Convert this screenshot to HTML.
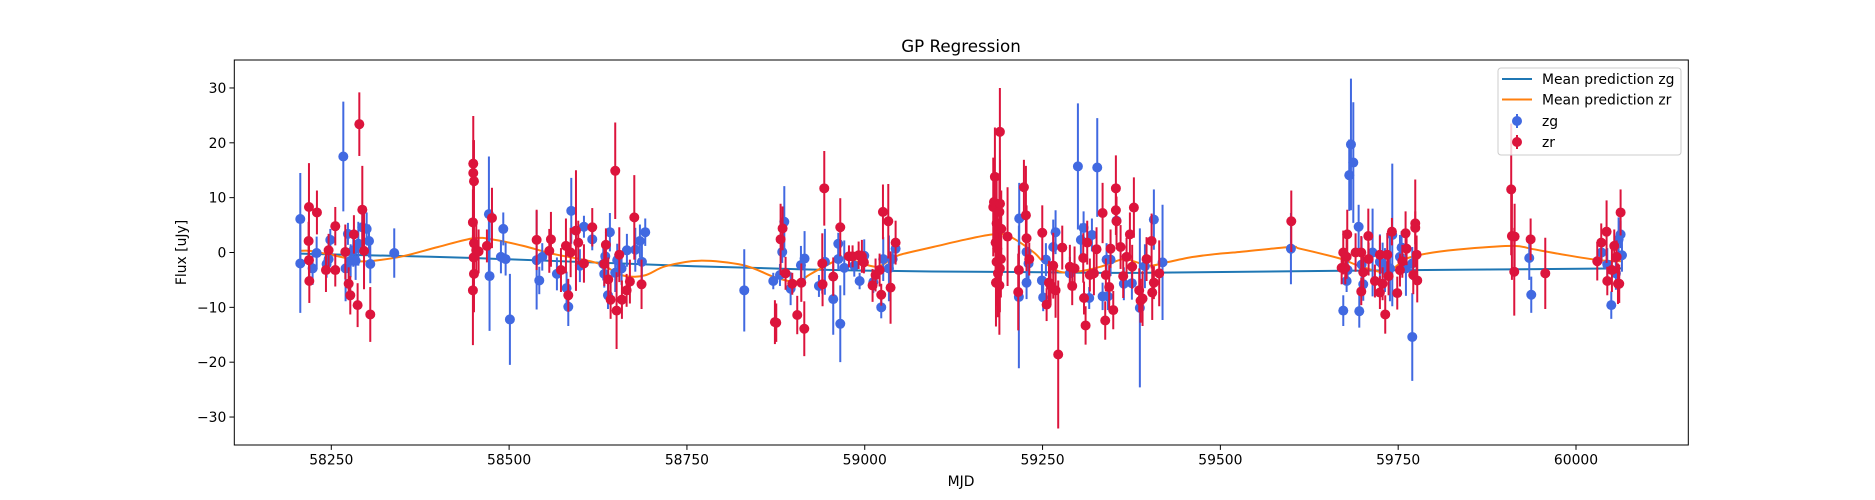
<!DOCTYPE html>
<html><head><meta charset="utf-8"><title>GP Regression</title>
<style>
html,body{margin:0;padding:0;background:#fff;}
svg{display:block;font-family:"DejaVu Sans","Liberation Sans",sans-serif;}
</style></head>
<body>
<svg id="chart" width="1875" height="500" viewBox="0 0 1875 500" xmlns="http://www.w3.org/2000/svg">
<rect x="0" y="0" width="1875" height="500" fill="#fff"/>
<text x="961" y="52" font-size="16.7" text-anchor="middle" fill="#000">GP Regression</text>
<text x="961" y="486" font-size="13.9" text-anchor="middle" fill="#000">MJD</text>
<text x="0" y="0" font-size="13.9" text-anchor="middle" fill="#000" transform="translate(186,252.5) rotate(-90)">Flux [uJy]</text>
<g id="plot"></g>
<g id="axes"></g>
<g id="legend">
<rect x="1498" y="68" width="183" height="87" rx="3" fill="#fff" fill-opacity="0.8" stroke="#ccc" stroke-width="1"/>
<g><line x1="1502" y1="79" x2="1532" y2="79" stroke="#1f77b4" stroke-width="2"/><text x="1542" y="84" font-size="13.9">Mean prediction zg</text></g>
<g><line x1="1502" y1="99.5" x2="1532" y2="99.5" stroke="#ff7f0e" stroke-width="2"/><text x="1542" y="104.5" font-size="13.9">Mean prediction zr</text></g>
<g><line x1="1517" y1="114" x2="1517" y2="128" stroke="#4169e1" stroke-width="2"/><circle cx="1517" cy="121" r="5" fill="#4169e1"/><text x="1542" y="126" font-size="13.9">zg</text></g>
<g><line x1="1517" y1="135" x2="1517" y2="149" stroke="#dc143c" stroke-width="2"/><circle cx="1517" cy="142" r="5" fill="#dc143c"/><text x="1542" y="147" font-size="13.9">zr</text></g>
</g>
</svg>
<script>
const xTicks = [58250,58500,58750,59000,59250,59500,59750,60000];
const yTicks = [-30,-20,-10,0,10,20,30];

const zgMjd = [58206.4,58206.4,58223.7,58229.4,58243.4,58246.2,58248.6,58266.9,58270.1,58273.4,58277.2,58280.9,58284.2,58288,58293.6,58299.7,58303,58304.8,58338.5,58471.6,58472.5,58488.5,58491.8,58495.1,58501.1,58538.7,58542.4,58546.6,58567.2,58580.8,58583.2,58587.4,58599.5,58605.2,58616.9,58632.4,58635.2,58633.8,58639,58641.7,58649.2,58652,58658.1,58665.6,58677.4,58683.9,58686.7,58691.4,
58830.6,58871.4,58880.8,58884,58886.9,58895.8,58910.3,58915.4,58935.6,58944,58955.7,58962.8,58962.8,58965.6,58971.2,58985.3,58992.8,58999.3,59012,59023.2,59026,59034,59039.2,59043.4,59217.2,59216.7,59227.5,59227.5,59230.3,59249.1,59250.9,59254.7,59265,59268.3,59288.4,59299.7,59303.9,59307.7,59315.6,59319.4,59326.9,59334.4,59340,59341.9,59345.6,59354,59364.3,59375.6,59386.8,59393.9,59406.5,59418.7,
59599.2,59672.8,59677.5,59678.9,59681.2,59683.6,59686.9,59694.4,59695.3,59698.6,59700.9,59714,59724.3,59728.1,59731.4,59738.4,59741.7,59752.5,59754.8,59760.9,59769.8,59769.8,59934.3,59937.1,60036,60044,60049.6,60056.1,60059.9,60062.7,60064.6];
const zgFlux = [6.1,-2.0,-2.9,-0.1,-2.1,-1.2,2.3,17.5,-2.9,3.4,-1.5,0.4,-1.5,1.6,4.6,4.3,2.1,-2.1,-0.1,7.0,-4.3,-0.8,4.3,-1.2,-12.2,-1.4,-5.1,-0.8,-3.9,-6.5,-9.9,7.6,-2.4,4.7,2.4,-2.1,-0.7,-3.9,-7.8,3.7,-3.7,-1.4,-2.9,0.4,0.5,2.1,-1.7,3.7,
-6.9,-5.2,-4.1,0.1,5.6,-6.6,-2.3,-1.1,-6.1,-1.7,-8.5,1.6,-1.2,-13.0,-2.8,-2.4,-5.2,-0.6,-5.4,-10.0,-1.2,-2.9,-1.2,0.7,6.2,-8.1,0.1,-5.5,-2.0,-5.1,-8.2,-1.3,1.0,3.7,-3.8,15.7,2.3,4.5,-8.3,3.2,15.5,-8.0,-1.3,-8.0,-1.3,5.8,-5.7,-5.6,-10.1,-2.5,6.0,-1.8,
0.7,-10.6,-5.2,-3.2,14.1,19.7,16.4,4.7,-10.7,-2.2,-5.8,0,-1.7,-2.2,-3.2,-2.9,3.2,-0.8,0.9,-2.9,-2.0,-15.4,-1.0,-7.7,0,-2.2,-9.6,-3.8,2.4,3.3,-0.5];
const zgErr = [8.4,9,3,3,2.5,2.5,2,10,6,2,3,3,3.5,4,3,3,3,3.5,4.5,10.5,10,3,3,3,8.3,9,2.5,2.5,3,3,3.5,6,3,2,2,3,3,2.5,2.5,3.5,3.5,3,3,3,4,3,4,2.5,
7.5,1.5,2,2,6.5,3,3.5,5,2,6,6.5,2,2,7,5,2,1.5,3,2,2,4,6,2,2,6.5,13,3,3,3,3,2.5,3,5,4,3,11.5,3,3,2,3,9,2.5,3,2.5,3,3,3,3,14.5,4,5.5,10.5,
6.5,2.8,2,2,6.5,12,11,4,3,5,3,8,5,4,4,6,13,4,3,5,3,8,4,3.3,2,3,2.5,3,4,2.5,3];

const zrMjd = [58218.6,58218.1,58218.6,58219.1,58229.8,58242.5,58246.2,58255.6,58255.6,58269.7,58274.4,58276.7,58281.8,58287,58289.4,58293.6,58296,58304.8,58449.6,58449.6,58450.6,58449.1,58450.6,58450.1,58450.6,58449.1,58453.8,58457.1,58468.8,58475.9,58538.7,58556.5,58558.8,58572.9,58579.9,58583.2,58586.5,58594,58597.2,58605.2,58616.9,58633.8,58636.1,58639.4,58642.7,58649.2,58651.1,58654.9,58658.6,58665.2,58669.8,58676,58686.2,
58873.7,58875.6,58881.7,58884.5,58888.7,58898.1,58905.1,58910.8,58915,58940.3,58940.7,58943.1,58955.7,58965.6,58977.8,58982.9,58991.4,58996,58998.8,59011,59015.2,59020.9,59023.2,59025.6,59033.1,59036.3,59043.4,
59180.7,59183,59181.7,59185.4,59184,59186.4,59185.4,59187.3,59184.5,59190,59190.2,59189.3,59190,59191.9,59191.4,59190,59189.3,
59200.8,59216.7,59215.8,59223.8,59226.6,59227.5,59231.3,59249.6,59255.7,59259,59261.3,59265,59268.3,59272,59277.7,59288.4,59291.7,59295,59307.2,59308.3,59310.5,59312.8,59316.5,59322.2,59325.9,59334.4,59338.1,59339,59343.7,59345.6,59349.4,59353.1,59353.1,59354,59359.7,59363.4,59368.1,59372.8,59376,59378.4,59385.9,59387.8,59390.6,59396.2,59403.3,59404.2,59406.5,59414,
59599.7,59670.5,59672.8,59675.6,59677.5,59678.4,59690.1,59698.1,59698.1,59700.9,59708,59708.4,59717.3,59724.3,59724.3,59728.1,59731.8,59734.7,59736.5,59741.2,59748.7,59752.5,59755.8,59760.4,59761.8,59771.2,59774,59774,59775.9,59776.8,59908.9,59909.9,59913.7,59913.2,59936.2,59956.8,60029.9,60035.5,60043,60044,60050.5,60053.8,60057.1,60059,60060.8,60062.7];
const zrFlux = [8.3,2.1,-1.4,-5.2,7.3,-3.2,0.4,4.8,-3.2,0.1,-5.7,-7.8,3.3,-9.6,23.4,7.8,0.3,-11.3,16.2,14.5,13.0,5.5,1.7,-0.9,-3.9,-6.9,0.4,0.2,1.2,6.3,2.3,0.3,2.4,-3.2,1.2,-7.8,0.0,4.0,1.8,-2.0,4.6,-2.1,1.4,-4.9,-8.6,14.9,-10.6,-0.4,-8.6,-6.9,-5.3,6.4,-5.8,
-12.7,-12.8,2.4,4.4,-3.8,-5.7,-11.4,-5.5,-13.9,-2.0,-5.8,11.7,-4.4,4.6,-0.7,-0.7,-0.5,-0.7,-1.8,-6.0,-4.1,-3.2,-7.7,7.4,5.7,-6.4,1.8,
8.3,13.8,9.2,5.3,1.8,0.7,-1.7,-3.8,-5.5,22.0,8.9,7.4,4.4,4.3,-1.2,-2.9,-6.0,
2.9,-3.2,-7.2,11.9,6.8,2.6,-1.2,3.6,-9.5,-5.5,-6.0,-2.4,-6.9,-18.6,0.9,-2.6,-6.1,-2.9,-1.0,-8.3,-13.3,1.8,-4.1,-3.8,0.6,7.2,-12.4,-4.1,-6.3,0.7,-10.5,11.7,7.7,5.7,1.0,-4.3,-0.8,3.3,-2.6,8.2,-6.9,-8.8,-8.4,-1.2,2.1,-7.3,-5.5,-3.8,
5.7,-2.8,0,-2.8,-0.8,3.3,0,0,-7.1,-3.6,3.0,-1.2,-5.2,-0.4,-7.3,-5.7,-11.3,-0.4,-4.3,3.8,-7.4,-3.2,-1.6,3.5,0.7,-4.1,5.3,4.5,-0.4,-5.1,11.5,3.0,2.9,-3.5,2.4,-3.8,-1.6,1.8,3.8,-5.2,-3.2,1.2,-0.8,-5.7,-5.7,7.3];
const zrErr = [8,3.5,4,4,4,4,3,3.5,3,5,3,3.5,3.5,4,5.8,8,7,5,8.7,6,7.5,6,6,7,7,10,5,4,3,5.5,5.5,4,5,4,5,3,4.5,11,4,3.5,3.5,4,3,4,3.5,8.8,7,5,3.5,3,4,7.7,4.5,
4,3.5,6.5,4,3,2,3.5,3.5,5,5.5,4,6.8,3.5,5.3,2,2,2.5,3,2,3,3,3,2,5,6.8,6.6,4,
9,9,8,8,8,7,8,8,8,8,8,7,7,7,7,8,9,
9,4.5,7,5,9,6,3,5,3,4,3.5,6,5,13.5,4,4,3.5,4,4.5,3,3.5,4,3,4,4,5.5,3.5,3,4,3.5,3.5,6,4.5,4.5,4,4,3.5,4,4,5.5,4,4,5,4,5,5,3,6,
5.6,3,4,3,4,4.5,3.5,3,2.5,3,5,3,3,3.5,3,3,3.5,4,3.5,2.5,3,3,3,4,3,3.5,8,3,3.5,4,12,8,6,8,3.8,6.5,3.5,3.5,5.7,2.6,4,3,3,3.7,3.5,4.2];

const meanZgMjd = [58206,58450,58760,59000,59250,59400,59700,60064];
const meanZgFlux = [-0.2,-1.0,-2.5,-3.3,-3.6,-3.7,-3.3,-2.9];

const meanZrMjd = [58206,58220,58245,58270,58290,58310,58350,58400,58450,58480,58520,58560,58600,58630,58660,58690,58720,58768,58829,58871,58893,58909,58923,58956,58975,58989,59017,59035,59050,59096,59143,59181,59204,59237,59251,59274,59298,59331,59363,59378,59401,59424,59462,59499,59518,59598,59612,59668,59692,59724,59743,59762,59799,59846,59912,59940,59987,60034,60064];
const meanZrFlux = [0.3,0.3,-0.3,-1.0,-1.6,-1.5,-0.7,1.0,2.6,2.3,1.2,-0.2,-1.2,-2.2,-4.2,-4.2,-2.5,-1.5,-2.3,-4.4,-5.2,-5.2,-4.0,-1.7,-0.8,-1.7,-2.6,-1.4,-0.4,1.0,2.4,3.3,2.9,0.1,-1.7,-3.5,-3.5,-2.6,-1.2,-1.6,-2.4,-1.8,-0.8,-0.2,0.0,1.0,0.7,-1.1,-2.3,-3.5,-2.9,-1.1,0.0,0.7,1.2,0.6,-0.5,-1.4,-1.6];

const L=234.3,R=1688.3,T=60,B=445;
const pxPerDay=(1576-331.3)/1750;
function xs(v){return 331.3+(v-58250)*pxPerDay;}
const pxPerFlux=(B-T)/70.2;
function ys(v){return 252.5-v*pxPerFlux;}
const NS='http://www.w3.org/2000/svg';
function mk(tag,attrs,parent){const e=document.createElementNS(NS,tag);for(const k in attrs)e.setAttribute(k,attrs[k]);parent.appendChild(e);return e;}

const plot=document.getElementById('plot');
const clip=mk('clipPath',{id:'clipArea'},plot);
mk('rect',{x:L,y:T,width:R-L,height:B-T},clip);
const inner=mk('g',{'clip-path':'url(#clipArea)'},plot);

function drawLine(xsArr,ysArr,color,name){
  const P=xsArr.map((v,i)=>[xs(v),ys(ysArr[i])]);
  let d='M'+P[0][0].toFixed(1)+','+P[0][1].toFixed(1);
  for(let i=0;i<P.length-1;i++){
    const p0=P[Math.max(0,i-1)],p1=P[i],p2=P[i+1],p3=P[Math.min(P.length-1,i+2)];
    const c1x=p1[0]+(p2[0]-p0[0])/6,c1y=p1[1]+(p2[1]-p0[1])/6;
    const c2x=p2[0]-(p3[0]-p1[0])/6,c2y=p2[1]-(p3[1]-p1[1])/6;
    d+='C'+c1x.toFixed(1)+','+c1y.toFixed(1)+' '+c2x.toFixed(1)+','+c2y.toFixed(1)+' '+p2[0].toFixed(1)+','+p2[1].toFixed(1);
  }
  const p=mk('path',{d:d,fill:'none',stroke:color,'stroke-width':2,'stroke-linejoin':'round'},inner);
  
  
}
drawLine(meanZgMjd,meanZgFlux,'#1f77b4','mean-prediction-zg-line');
drawLine(meanZrMjd,meanZrFlux,'#ff7f0e','mean-prediction-zr-line');

function drawSeries(m,f,e,color,name){
  const g=mk('g',{},inner);
  
  
  for(let i=0;i<m.length;i++){
    const x=xs(m[i]);
    const ln=mk('line',{x1:x,x2:x,y1:ys(f[i]-e[i]),y2:ys(f[i]+e[i]),stroke:color,'stroke-width':2},g);
    
    
  }
  for(let i=0;i<m.length;i++){
    const c=mk('circle',{cx:xs(m[i]),cy:ys(f[i]),r:5,fill:color},g);
    
    
  }
}
drawSeries(zgMjd,zgFlux,zgErr,'#4169e1','zg');
drawSeries(zrMjd,zrFlux,zrErr,'#dc143c','zr');

const axes=document.getElementById('axes');
const frame=mk('rect',{x:L,y:T,width:R-L,height:B-T,fill:'none',stroke:'#000','stroke-width':1},axes);


xTicks.forEach(v=>{
  const x=xs(v);
  mk('line',{x1:x,x2:x,y1:B,y2:B+4.9,stroke:'#000','stroke-width':1},axes);
  const t=mk('text',{x:x,y:B+19.5,'font-size':13.9,'text-anchor':'middle',fill:'#000'},axes);
  t.textContent=String(v);
  
  
});
yTicks.forEach(v=>{
  const y=ys(v);
  mk('line',{x1:L-4.9,x2:L,y1:y,y2:y,stroke:'#000','stroke-width':1},axes);
  const t=mk('text',{x:L-8,y:y+5,'font-size':13.9,'text-anchor':'end',fill:'#000'},axes);
  t.textContent=(v<0?'\u2212'+Math.abs(v):String(v));
  
  
});
</script>
</body></html>
